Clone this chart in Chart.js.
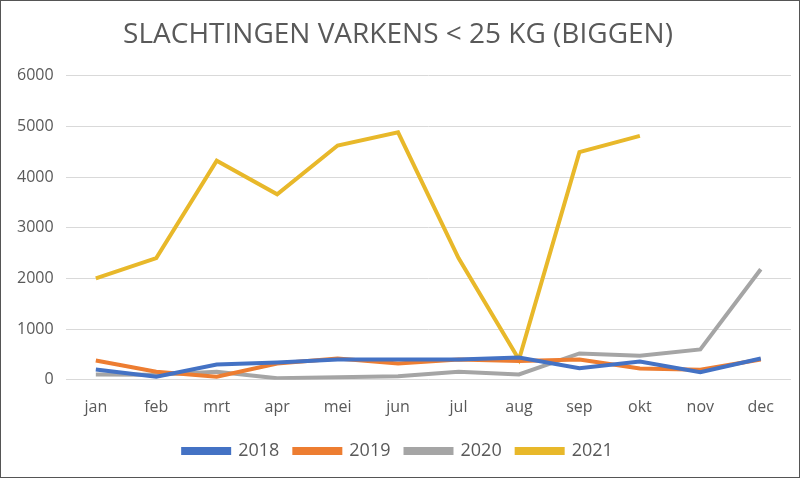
<!DOCTYPE html>
<html>
<head>
<meta charset="utf-8">
<script src="https://cdn.jsdelivr.net/npm/chart.js@4"></script>
<style>
  html, body { margin: 0; padding: 0; background: #fff; }
  #wrap { width: 800px; height: 478px; box-sizing: border-box; border: 1px solid #555; background: #fff; }
  canvas { display: block; }
</style>
</head>
<body>
<div id="wrap"><canvas id="c" width="798" height="476"></canvas></div>
<script>
const categories = ["jan","feb","mrt","apr","mei","jun","jul","aug","sep","okt","nov","dec"];
const s2018 = [205, 60, 300, 340, 400, 400, 400, 440, 230, 360, 150, 420];
const s2019 = [380, 160, 60, 320, 420, 320, 400, 370, 400, 225, 200, 400];
const s2020 = [105, 100, 160, 30, 50, 70, 160, 105, 520, 475, 600, 2180];
const s2021 = [2000, 2400, 4320, 3660, 4620, 4880, 2400, 400, 4490, 4810, null, null];
const yTicks = [0, 1000, 2000, 3000, 4000, 5000, 6000];
const titleText = "SLACHTINGEN VARKENS < 25 KG (BIGGEN)";

const font = "'Open Sans', 'Liberation Sans', sans-serif";
function ds(label, data, color) {
  return { label, data, borderColor: color, backgroundColor: color, borderWidth: 4,
           pointRadius: 0, pointHoverRadius: 0, tension: 0, fill: false, spanGaps: false };
}
new Chart(document.getElementById('c'), {
  type: 'line',
  data: {
    labels: categories,
    datasets: [
      ds('2018', s2018, '#4472C4'),
      ds('2019', s2019, '#ED7D31'),
      ds('2020', s2020, '#A5A5A5'),
      ds('2021', s2021, '#E8B82A')
    ]
  },
  options: {
    responsive: false,
    animation: false,
    layout: { padding: { left: 4, right: 8, top: 10, bottom: 7 } },
    plugins: {
      title: { display: true, text: titleText, color: '#595959',
               font: { family: font, size: 28, weight: 'normal' }, padding: { top: 7, bottom: 24 } },
      legend: { position: 'bottom',
        labels: { color: '#595959', font: { family: font, size: 18 }, boxWidth: 46, boxHeight: 4, padding: 15 } },
      tooltip: { enabled: false }
    },
    scales: {
      x: { offset: true, grid: { display: false }, border: { display: false },
           ticks: { color: '#595959', font: { family: font, size: 16 }, padding: 10 } },
      y: { min: 0, max: 6000, afterBuildTicks: (ax) => { ax.ticks = yTicks.map(v => ({ value: v })); },
           grid: { color: '#D9D9D9', lineWidth: 1, drawTicks: false }, border: { display: false },
           ticks: { color: '#595959', font: { family: font, size: 16 }, padding: 12,
                    callback: (v) => String(v) } }
    }
  }
});
</script>
</body>
</html>
